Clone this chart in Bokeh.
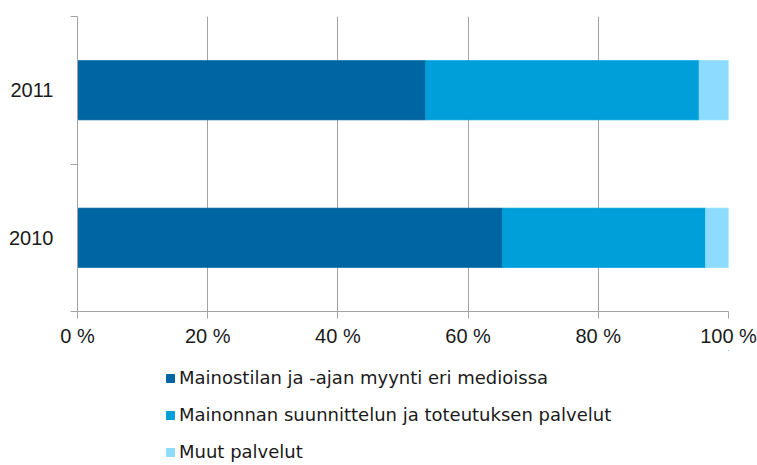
from bokeh.plotting import figure
from bokeh.models import ColumnDataSource, FixedTicker, Legend, LegendItem
from bokeh.layouts import column
from bokeh.embed import file_html
from bokeh.resources import INLINE

# ---- data ----
years = ["2010", "2011"]
media_sales = [65.3, 53.5]        # Mainostilan ja -ajan myynti eri medioissa
design_services = [31.2, 42.0]    # Mainonnan suunnittelun ja toteutuksen palvelut
other_services = [3.5, 4.5]       # Muut palvelut
series_labels = ["Mainostilan ja -ajan myynti eri medioissa",
                 "Mainonnan suunnittelun ja toteutuksen palvelut",
                 "Muut palvelut"]
x_ticks = [0, 20, 40, 60, 80, 100]
x_tick_labels = ["0 %", "20 %", "40 %", "60 %", "80 %", "100 %"]

colors = ["#0065a3", "#009fda", "#8ddcff"]
FONT = "Liberation Sans"
GRID = "#a3a3a3"
TEXT = "#1a1a1a"

ypos = [i + 0.5 for i in range(len(years))]
source = ColumnDataSource(dict(y=ypos, s1=media_sales, s2=design_services, s3=other_services))

p = figure(width=757, height=350, output_backend="svg", toolbar_location=None,
           x_range=(0, 100), y_range=(0, len(years)),
           min_border_left=77, min_border_right=29, min_border_top=16, min_border_bottom=39)
p.outline_line_color = None

p.hbar_stack(["s1", "s2", "s3"], y="y", height=0.4, color=colors,
             line_color=colors, source=source)

# x axis
p.xaxis.ticker = FixedTicker(ticks=x_ticks)
p.xaxis.major_label_overrides = {t: l for t, l in zip(x_ticks, x_tick_labels)}
p.xaxis.axis_line_color = GRID
p.xaxis.major_tick_line_color = GRID
p.xaxis.major_tick_out = 7
p.xaxis.major_tick_in = 0
p.xaxis.minor_tick_line_color = None
p.xaxis.major_label_text_font = FONT
p.xaxis.major_label_text_font_size = "20px"
p.xaxis.major_label_text_color = TEXT
p.xaxis.major_label_standoff = 6

# y axis: labels at category centres, ticks at boundaries
p.yaxis.ticker = FixedTicker(ticks=ypos, minor_ticks=[0, 1, 2])
p.yaxis.major_label_overrides = {y: l for y, l in zip(ypos, years)}
p.yaxis.axis_line_color = GRID
p.yaxis.major_tick_line_color = None
p.yaxis.major_tick_out = 0
p.yaxis.major_tick_in = 0
p.yaxis.minor_tick_line_color = GRID
p.yaxis.minor_tick_out = 7
p.yaxis.minor_tick_in = 0
p.yaxis.major_label_text_font = FONT
p.yaxis.major_label_text_font_size = "20px"
p.yaxis.major_label_text_color = TEXT
p.yaxis.major_label_standoff = 17

p.xgrid.grid_line_color = GRID
p.xgrid.ticker = FixedTicker(ticks=x_ticks)
p.ygrid.grid_line_color = None

# ---- legend figure ----
lg = figure(width=757, height=115, output_backend="svg", toolbar_location=None,
            x_range=(0, 1), y_range=(0, 1), x_axis_type=None, y_axis_type=None,
            min_border_left=77, min_border_right=29, min_border_top=0, min_border_bottom=0)
lg.outline_line_color = None
lg.xgrid.visible = False
lg.ygrid.visible = False
# swatch renderers placed far outside the visible range; only their legend glyphs show
swatches = [lg.hbar(y=[50], left=[50], right=[51], height=0.1, color=c, line_color=c) for c in colors]

legend = Legend(items=[LegendItem(label=lab, renderers=[r]) for lab, r in zip(series_labels, swatches)],
                location=(88, 3), orientation="vertical",
                glyph_width=10, glyph_height=10, label_standoff=4,
                label_height=20, spacing=16, padding=0, margin=0,
                border_line_color=None, background_fill_alpha=0,
                label_text_font="DejaVu Sans", label_text_font_size="18px", label_text_color=TEXT)
lg.add_layout(legend, "center")

open("out.html", "w").write(file_html(column(p, lg, spacing=0), INLINE))
